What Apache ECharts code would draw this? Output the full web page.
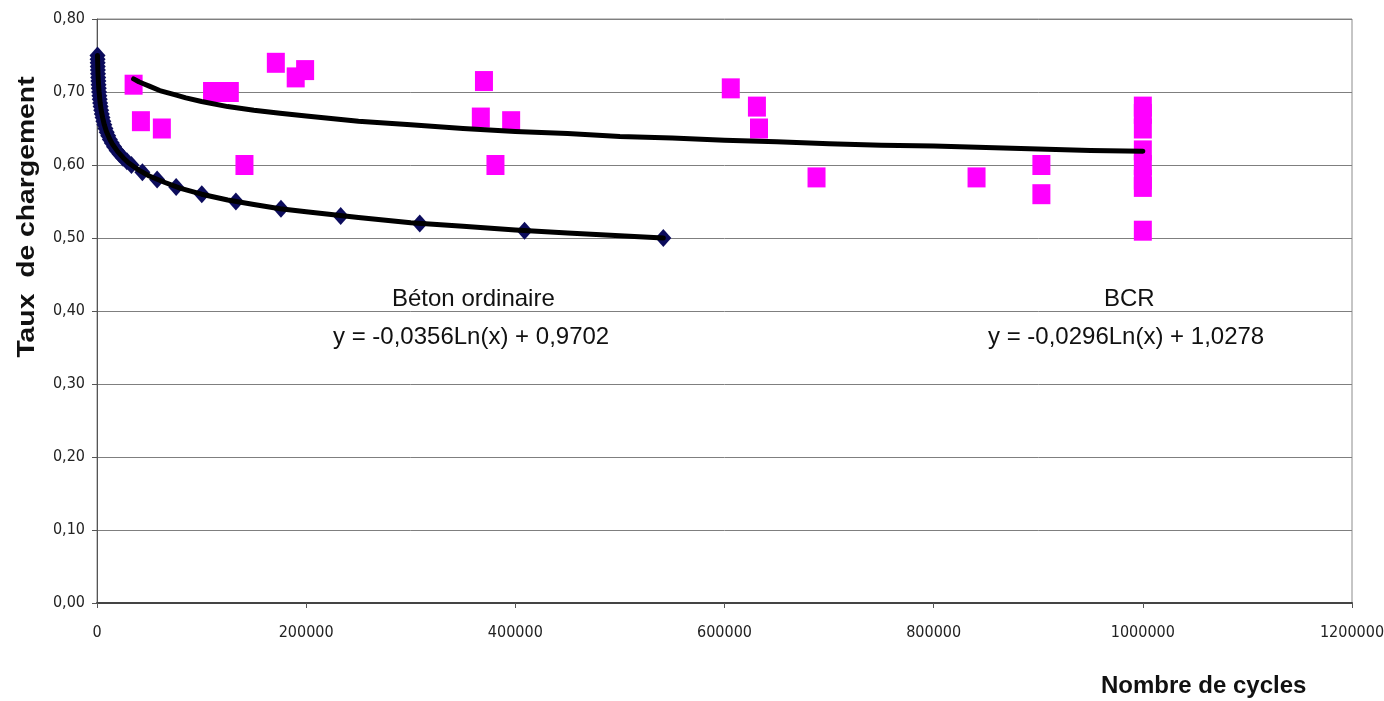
<!DOCTYPE html>
<html>
<head>
<meta charset="utf-8">
<title>Taux de chargement</title>
<script src="https://cdn.jsdelivr.net/npm/echarts@6/dist/echarts.min.js"></script>
<style>
  html, body { margin: 0; padding: 0; background: #ffffff; }
  #chart { width: 1384px; height: 701px; }
</style>
</head>
<body>
<div id="chart"></div>
<script>
// Béton ordinaire : points mesurés [cycles, taux]
var betonPoints = [
  [485, 0.75], [560, 0.745], [642, 0.74], [740, 0.735], [851, 0.73], [980, 0.725],
  [1127, 0.72], [1300, 0.715], [1493, 0.71], [1720, 0.705], [1978, 0.70], [2280, 0.695],
  [2620, 0.69], [3010, 0.685], [3470, 0.68], [4000, 0.675], [4600, 0.67], [5290, 0.665],
  [6090, 0.66], [7010, 0.655], [8070, 0.65], [9290, 0.645], [10700, 0.64], [12300, 0.635],
  [14170, 0.63], [16300, 0.625], [18770, 0.62], [21600, 0.615], [24860, 0.61], [28600, 0.605],
  [32930, 0.60], [43400, 0.59], [57500, 0.58], [75700, 0.57], [100200, 0.56], [132800, 0.55],
  [175900, 0.54], [233000, 0.53], [308600, 0.52], [408800, 0.51], [541500, 0.50]
];
// courbe de tendance Béton ordinaire
var betonTrend = [
  [485, 0.750], [700, 0.737], [1000, 0.724], [1500, 0.710], [2000, 0.700], [3000, 0.685],
  [4000, 0.675], [5500, 0.664], [7000, 0.655], [9000, 0.646], [12000, 0.636], [15000, 0.628],
  [20000, 0.618], [25000, 0.610], [30000, 0.603], [40000, 0.593], [50000, 0.585],
  [65000, 0.576], [80000, 0.568], [100000, 0.560], [125000, 0.552], [150000, 0.546],
  [175000, 0.540], [200000, 0.536], [250000, 0.528], [300000, 0.521], [350000, 0.516],
  [400000, 0.511], [450000, 0.507], [500000, 0.503], [541500, 0.500]
];
// BCR : points mesurés
var bcrPoints = [
  [35000, 0.71], [42000, 0.66], [62000, 0.65], [110000, 0.70], [127000, 0.70], [141000, 0.60],
  [171000, 0.74], [190000, 0.72], [199000, 0.73], [367000, 0.665], [370000, 0.715],
  [381000, 0.60], [396000, 0.66], [606000, 0.705], [631000, 0.68], [633000, 0.65],
  [688000, 0.583], [841000, 0.583], [903000, 0.60], [903000, 0.56],
  [1000000, 0.68], [1000000, 0.67], [1000000, 0.65], [1000000, 0.62], [1000000, 0.60],
  [1000000, 0.58], [1000000, 0.57], [1000000, 0.51]
];
// courbe de tendance BCR
var bcrTrend = [
  [35000, 0.718], [40000, 0.714], [45000, 0.711], [50000, 0.708], [60000, 0.702],
  [75000, 0.696], [85000, 0.692], [100000, 0.687], [125000, 0.680], [150000, 0.675],
  [175000, 0.671], [200000, 0.667], [250000, 0.660], [300000, 0.655], [350000, 0.650],
  [400000, 0.646], [450000, 0.643], [500000, 0.639], [550000, 0.637], [600000, 0.634],
  [650000, 0.632], [700000, 0.629], [750000, 0.627], [800000, 0.626], [850000, 0.624],
  [900000, 0.622], [950000, 0.620], [1000000, 0.619]
];
var yTicks = [0, 0.1, 0.2, 0.3, 0.4, 0.5, 0.6, 0.7, 0.8];
var xTicks = [0, 200000, 400000, 600000, 800000, 1000000, 1200000];

var myChart = echarts.init(document.getElementById("chart"));
var labelFont = "'Liberation Sans', Arial, sans-serif";
var tickFont = "'Liberation Sans Narrow', 'DejaVu Sans Condensed', 'Liberation Sans', sans-serif";

var option = {
  backgroundColor: "#ffffff",
  animation: false,
  grid: {
    left: 97,
    right: 32,
    top: 19,
    bottom: 98,
    outerBoundsMode: "none",
    show: true,
    borderColor: "#8c8c8c",
    borderWidth: 1
  },
  xAxis: {
    type: "value",
    min: xTicks[0],
    max: xTicks[xTicks.length - 1],
    interval: 200000,
    axisLine: { show: true, onZero: false, lineStyle: { color: "#444444", width: 2 } },
    axisTick: { show: true, length: 5, lineStyle: { color: "#555555" } },
    splitLine: { show: false },
    axisLabel: {
      color: "#222222",
      fontFamily: tickFont,
      fontSize: 16,
      margin: 22,
      formatter: function (v) { return String(v); }
    }
  },
  yAxis: {
    type: "value",
    min: yTicks[0],
    max: yTicks[yTicks.length - 1],
    interval: 0.1,
    axisLine: { show: true, lineStyle: { color: "#555555", width: 1 } },
    axisTick: { show: true, length: 5, lineStyle: { color: "#555555" } },
    splitLine: { show: true, lineStyle: { color: "#7f7f7f", width: 1 } },
    axisLabel: {
      color: "#222222",
      fontFamily: tickFont,
      fontSize: 16,
      margin: 12,
      formatter: function (v) { return v.toFixed(2).replace(".", ","); }
    }
  },
  series: [
    {
      name: "Béton ordinaire",
      type: "scatter",
      data: betonPoints,
      symbol: "diamond",
      symbolSize: [16, 18],
      itemStyle: { color: "#0c0c5c", opacity: 1 },
      z: 3
    },
    {
      name: "BCR",
      type: "scatter",
      data: bcrPoints,
      symbol: "rect",
      symbolSize: [18, 20],
      itemStyle: { color: "#ff00ff", opacity: 1 },
      z: 2
    },
    {
      name: "Tendance béton",
      type: "line",
      data: betonTrend,
      showSymbol: false,
      lineStyle: { color: "#000000", width: 5, cap: "round", join: "round" },
      z: 4
    },
    {
      name: "Tendance BCR",
      type: "line",
      data: bcrTrend,
      showSymbol: false,
      lineStyle: { color: "#000000", width: 5, cap: "round", join: "round" },
      z: 4
    }
  ],
  graphic: [
    {
      type: "text", left: 392, top: 287,
      style: { text: "Béton ordinaire", font: "24px " + labelFont, fill: "#111111" }
    },
    {
      type: "text", left: 333, top: 325,
      style: { text: "y = -0,0356Ln(x) + 0,9702", font: "24px " + labelFont, fill: "#111111" }
    },
    {
      type: "text", left: 1104, top: 287,
      style: { text: "BCR", font: "24px " + labelFont, fill: "#111111" }
    },
    {
      type: "text", left: 988, top: 325,
      style: { text: "y = -0,0296Ln(x) + 1,0278", font: "24px " + labelFont, fill: "#111111" }
    },
    {
      type: "text", x: 27, y: 217, rotation: Math.PI / 2, scaleX: 1.18,
      style: {
        text: "Taux  de chargement", font: "bold 24px " + labelFont, fill: "#111111",
        textAlign: "center", textVerticalAlign: "middle"
      }
    },
    {
      type: "text", left: 1101, top: 674,
      style: { text: "Nombre de cycles", font: "bold 24px " + labelFont, fill: "#111111" }
    }
  ]
};

myChart.setOption(option);
window.addEventListener("resize", function () {
  myChart.resize();
});
</script>
</body>
</html>
